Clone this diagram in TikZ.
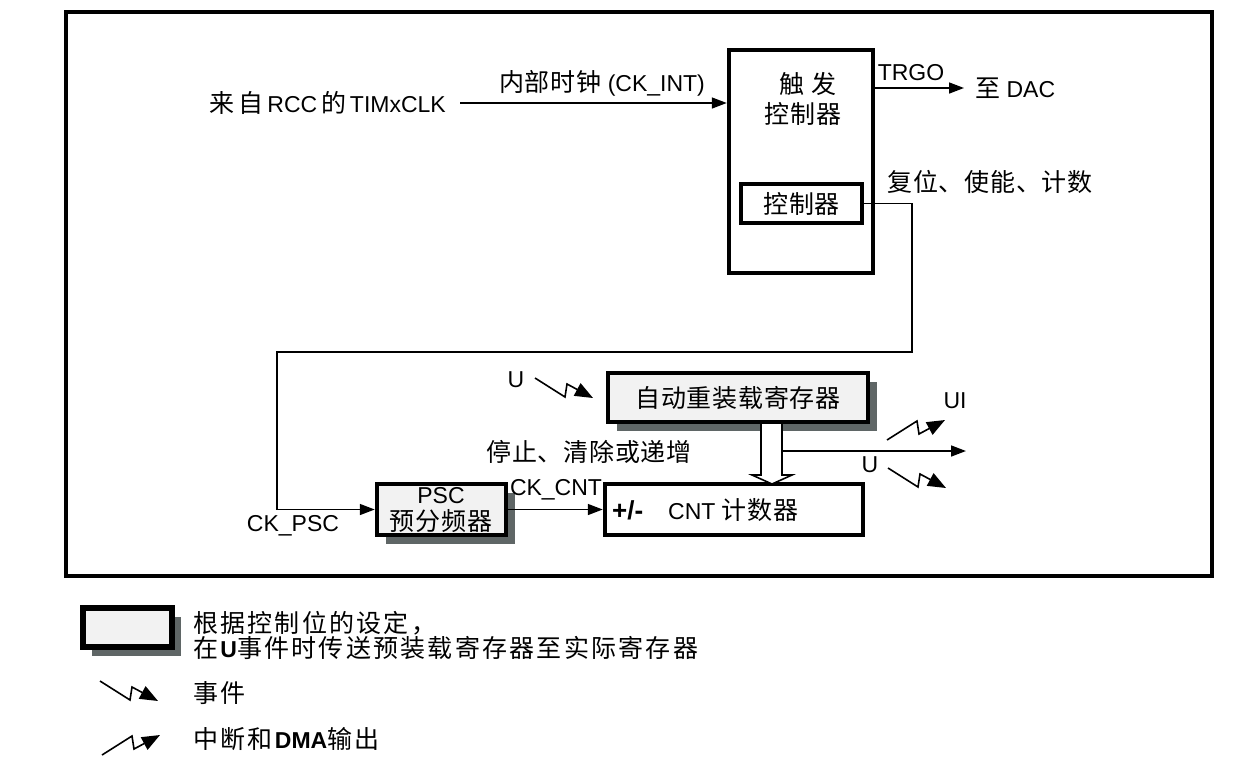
\documentclass[tikz,border=0pt]{standalone}
\usepackage{fontspec}
\setmainfont{Liberation Sans}
\newfontfamily\cjk[LetterSpace=3]{Noto Sans CJK SC}
\newfontfamily\cjkw[LetterSpace=9]{Noto Sans CJK SC}
\newcommand\zh[1]{{\cjk\fontsize{25pt}{28pt}\selectfont #1}}
\newcommand\zhw[1]{{\cjkw\fontsize{25pt}{28pt}\selectfont #1}}
\usetikzlibrary{arrows.meta,shadows}
\definecolor{boxfill}{HTML}{F2F2F2}
\definecolor{shadowgray}{HTML}{5F6666}
\begin{document}
\begin{tikzpicture}[x=1pt,y=-1pt,
  every node/.style={inner sep=0pt},
  lbl/.style={font=\fontsize{23pt}{26pt}\selectfont},
  blk/.style={draw, line width=4.5pt, rectangle, inner sep=0pt, font=\fontsize{23pt}{26pt}\selectfont},
  shbox/.style={blk, fill=boxfill, general shadow={fill=shadowgray, shadow xshift=9pt, shadow yshift=-9pt}},
  wire/.style={line width=1.6pt},
  arr/.style={wire, -{Triangle[length=15pt,width=11pt]}},
  pics/evbolt/.style={code={
    \draw[wire, -{Triangle[length=18pt,width=14pt]}] (0,0) -- (30,19) -- (32,6) -- (58,20);
  }}
]
\useasboundingbox (0,0) rectangle (1260,761);
% outer frame
\draw[line width=4pt] (66,12) rectangle (1212,576);

% trigger controller
\node[blk, minimum width=144pt, minimum height=223pt] (trig) at (801,161.5) {};
\node[lbl] (trigt1) at (808,84) {\zh{触 发}};
\node[lbl] (trigt2) at (803,114) {\zh{控制器}};
\node[blk, line width=4pt, minimum width=121pt, minimum height=39pt] (ctrl) at (801.5,203.5) {\zh{控制器}};

% input clock
\node[lbl, anchor=east] (rcc) at (446,103) {\zh{来\,自}\,RCC\,\zh{的}\,TIMxCLK};
\draw[arr] (rcc.east) ++(14,0) coordinate (rccs) -- (rccs -| trig.west);
\node[lbl] (ckint) at (602,83) {\zh{内部时钟} (CK\_INT)};

% TRGO
\node[lbl, anchor=west] (dac) at (975,88) {\zh{至} DAC};
\draw[arr] (trig.east |- dac) -- ([xshift=-11pt]dac.west);
\node[lbl] (trgo) at (911,73) {TRGO};

% reset/enable/count
\node[lbl] (rst) at (990,182) {\zh{复位、使能、计数}};

% auto reload
\node[shbox, minimum width=260pt, minimum height=49pt] (arr) at (738,397.5) {\zh{自动重装载寄存器}};
% counter
\node[blk, fill=white, minimum width=258pt, minimum height=51pt] (cnt) at (734,509.5) {};
\node[anchor=west, font=\fontsize{26pt}{28pt}\selectfont\bfseries] (pm) at (612,510) {+/-};
\node[lbl, anchor=west] (cntt) at (668,510) {CNT \zh{计数器}};
% prescaler
\node[shbox, minimum width=129pt, minimum height=51pt] (psc) at (441.5,509.5) {};
\node[lbl] (psct1) at (441,496) {PSC};
\node[lbl] (psct2) at (441,521) {\zh{预分频器}};

% control path
\coordinate (c1) at (912,352);
\coordinate (c2) at (277,352);
\draw[arr] (ctrl.east) -| (c1) -- (c2) |- (psc.west);
\node[lbl] (ckpsc) at (293,526) {CK\_PSC};

% CK_CNT
\draw[arr] (psc.east) -- (cnt.west);
\node[lbl] (ckcnt) at (556,490) {CK\_CNT};

% hollow transfer arrow
\draw[wire, fill=white] (761,424) -- (761,475) -- (752,475) -- (772,484) -- (792,475) -- (782,475) -- (782,424);
% output line
\coordinate (outp) at (966,451);
\draw[arr] (782,451) -- (outp);

\node[lbl] (stop) at (589,452) {\zh{停止、清除或递增}};

% event bolts
\node[lbl] (u1) at (516,380) {U};
\pic at (535,378) {evbolt};
\node[lbl] (ui) at (955,401) {UI};
\pic[yscale=-1] at (887,440) {evbolt};
\node[lbl] (u2) at (870,465) {U};
\pic at (888,468) {evbolt};

% legend
\node[shbox, line width=5.5pt, minimum width=89pt, minimum height=39pt] (leg) at (127.5,627.5) {};
\node[lbl, anchor=west, align=left] (legt) at (193,635) {\zhw{根据控制位的设定，}\\[-1pt]\zhw{在}\textbf{U}\zhw{事件时传送预装载寄存器至实际寄存器}};
\pic at (100,681) {evbolt};
\node[lbl, anchor=west] (evt) at (193,693) {\zhw{事件}};
\pic[yscale=-1] at (102,755) {evbolt};
\node[lbl, anchor=west] (irq) at (193,739) {\zhw{中断和}\textbf{DMA}\zhw{输出}};
\end{tikzpicture}
\end{document}
